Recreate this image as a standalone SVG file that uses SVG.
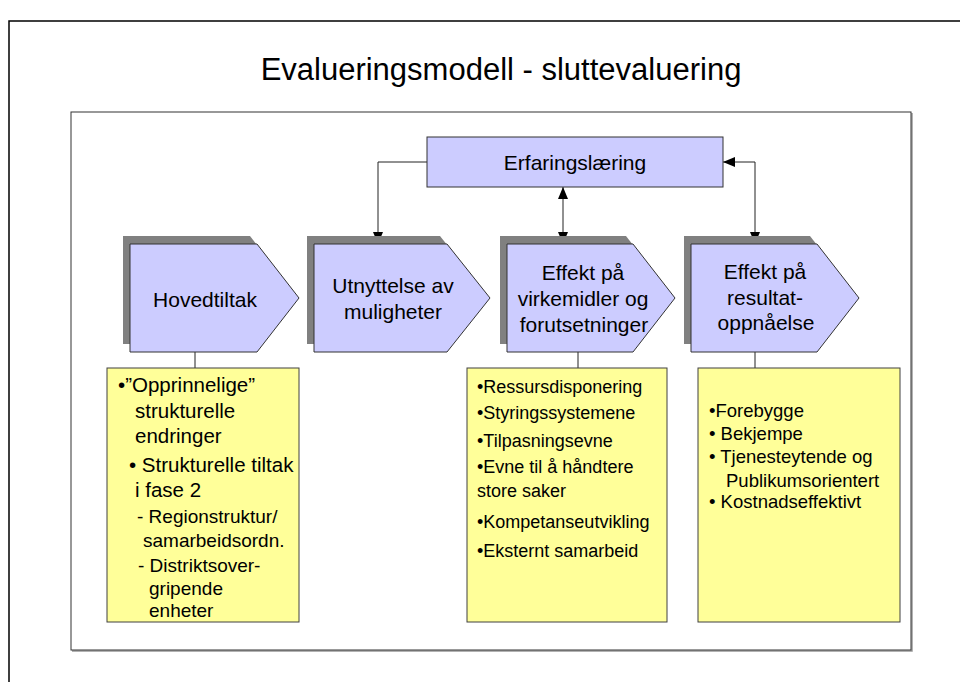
<svg xmlns="http://www.w3.org/2000/svg" width="960" height="682" viewBox="0 0 960 682">
<style>
text{font-family:"Liberation Sans",Arial,sans-serif;fill:#000}
.title{font-size:31px}
.lbl{font-size:21px}
.y21{font-size:20.5px}
.y19{font-size:19px}
.y18{font-size:18px}
.y185{font-size:18.5px}
.shape{fill:#CCCCFF;stroke:#333;stroke-width:1}
.shadow{fill:#808080}
.note{fill:#FFFF99;stroke:#404040;stroke-width:1}
.conn{fill:none;stroke:#222;stroke-width:1}
</style>
<defs>
<marker id="ah" markerUnits="userSpaceOnUse" markerWidth="12" markerHeight="12" refX="12" refY="5" orient="auto-start-reverse" viewBox="0 0 12 10">
<path d="M0,0 L12,5 L0,10 Z" fill="#000"/>
</marker>
</defs>
<rect width="960" height="682" fill="#fff"/>
<path d="M9,682 V21 H960" fill="none" stroke="#000" stroke-width="1.5"/>
<text class="title" x="501" y="80" text-anchor="middle">Evalueringsmodell - sluttevaluering</text>
<path d="M912,113 V651 H72" fill="none" stroke="#999" stroke-width="1.5"/>
<rect x="71" y="112" width="840" height="538" fill="none" stroke="#333" stroke-width="1"/>

<g id="connectors">
<path class="conn" d="M427,162 H378 V244" marker-end="url(#ah)"/>
<path class="conn" d="M563,187 V244" marker-start="url(#ah)" marker-end="url(#ah)"/>
<path class="conn" d="M723,162 H755 V244" marker-start="url(#ah)" marker-end="url(#ah)"/>
<path class="conn" d="M195,352 V368"/>
<path class="conn" d="M578,352 V368"/>
<path class="conn" d="M755,352 V368"/>
</g>

<g id="erfaringslaering">
<rect class="shape" x="427" y="137" width="296" height="50"/>
<text class="lbl" x="575" y="170" text-anchor="middle">Erfaringslæring</text>
</g>

<g id="hovedtiltak">
<polygon class="shadow" points="123,236 250,236 292,290 250,344 123,344"/>
<polygon class="shape" points="130,244 257,244 299,298 257,352 130,352"/>
<text class="lbl" x="205" y="307" text-anchor="middle">Hovedtiltak</text>
</g>

<g id="utnyttelse">
<polygon class="shadow" points="307,236 440,236 483,290 440,344 307,344"/>
<polygon class="shape" points="314,244 447,244 490,298 447,352 314,352"/>
<text class="lbl" x="393" y="293" text-anchor="middle">Utnyttelse av</text>
<text class="lbl" x="393" y="319" text-anchor="middle">muligheter</text>
</g>

<g id="effekt-virkemidler">
<polygon class="shadow" points="500,236 626,236 668,290 626,344 500,344"/>
<polygon class="shape" points="507,244 633,244 675,298 633,352 507,352"/>
<text class="lbl" x="583" y="280" text-anchor="middle">Effekt på</text>
<text class="lbl" x="583" y="306" text-anchor="middle">virkemidler og</text>
<text class="lbl" x="584" y="332" text-anchor="middle">forutsetninger</text>
</g>

<g id="effekt-resultat">
<polygon class="shadow" points="684,236 810,236 852,290 810,344 684,344"/>
<polygon class="shape" points="691,244 817,244 859,298 817,352 691,352"/>
<text class="lbl" x="765" y="279" text-anchor="middle">Effekt på</text>
<text class="lbl" x="765" y="305" text-anchor="middle">resultat-</text>
<text class="lbl" x="766" y="330" text-anchor="middle">oppnåelse</text>
</g>

<g id="note-hovedtiltak">
<rect class="note" x="107" y="368" width="192" height="254"/>
<text class="y21" x="118" y="392">•”Opprinnelige”</text>
<text class="y21" x="135" y="418">strukturelle</text>
<text class="y21" x="135" y="443">endringer</text>
<text class="y21" x="129" y="472">• Strukturelle tiltak</text>
<text class="y21" x="135" y="497">i fase 2</text>
<text class="y19" x="137" y="523">- Regionstruktur/</text>
<text class="y19" x="143" y="547">samarbeidsordn.</text>
<text class="y19" x="138" y="572">- Distriktsover-</text>
<text class="y19" x="149" y="595">gripende</text>
<text class="y19" x="149" y="617">enheter</text>
</g>

<g id="note-virkemidler">
<rect class="note" x="467" y="368" width="200" height="254"/>
<text class="y18" x="477" y="393">•Ressursdisponering</text>
<text class="y18" x="477" y="419">•Styringssystemene</text>
<text class="y18" x="477" y="447">•Tilpasningsevne</text>
<text class="y18" x="477" y="473">•Evne til å håndtere</text>
<text class="y18" x="477" y="497">store saker</text>
<text class="y18" x="477" y="528">•Kompetanseutvikling</text>
<text class="y18" x="477" y="557">•Eksternt samarbeid</text>
</g>

<g id="note-resultat">
<rect class="note" x="698" y="368" width="202" height="254"/>
<text class="y185" x="709" y="417">•Forebygge</text>
<text class="y185" x="709" y="440">• Bekjempe</text>
<text class="y185" x="709" y="463">• Tjenesteytende og</text>
<text class="y185" x="726" y="487">Publikumsorientert</text>
<text class="y185" x="709" y="508">• Kostnadseffektivt</text>
</g>
</svg>
